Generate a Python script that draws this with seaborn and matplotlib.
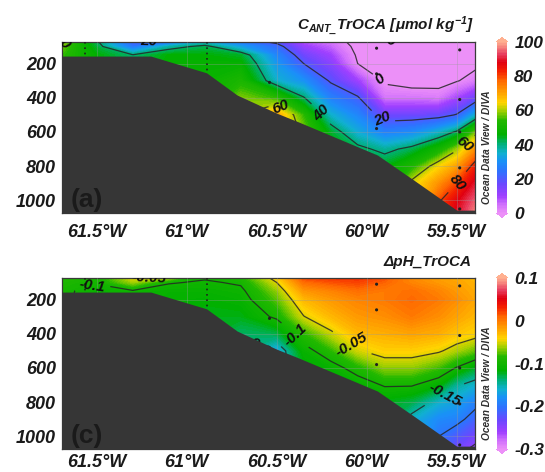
import numpy as np
import matplotlib
matplotlib.use("Agg")
import matplotlib.pyplot as plt
import seaborn as sns
from matplotlib.colors import LinearSegmentedColormap, Normalize
from matplotlib.ticker import FixedLocator, FixedFormatter

# ---------------- data ----------------
lon_grid = [-61.70, -61.50, -61.30, -61.10, -60.90, -60.70, -60.50, -60.35,
            -60.20, -60.05, -59.90, -59.75, -59.60, -59.50, -59.39]
depth_grid = [60, 100, 150, 200, 300, 400, 500, 600, 700, 800, 900, 1000, 1080]

# C_ANT TrOCA (umol/kg), rows = depth_grid, columns = lon_grid
cant_grid = [
    [62, 40, 18, 17, 30, 22, 16,  6,  3, -3,  1, -2, -3, -3, -3],
    [58, 43, 25, 37, 42, 32, 23, 11,  6, -2, -1, -3, -4, -3, -3],
    [55, 46, 40.5, 46, 46, 44, 28, 16, 10, -1, -3, -4, -4, -3, -2],
    [55, 46, 42, 47, 47, 47, 31, 20, 13,  0, -3, -4, -3, -2, -1.5],
    [55, 46, 42, 47, 48, 52, 35, 30, 19, 10, -1, -3, -2.5, -0.5, 3],
    [55, 46, 42, 47, 48, 58, 54, 40.5, 27, 21,  4,  4,  3,  9, 16],
    [55, 46, 42, 47, 48, 60, 70, 54, 35, 28, 16, 16, 17, 20.5, 35],
    [55, 46, 42, 47, 48, 60, 70, 58, 44, 34, 27, 29, 35, 41, 58],
    [55, 46, 42, 47, 48, 60, 70, 58, 46, 42, 38, 42, 50, 59, 73],
    [55, 46, 42, 47, 48, 60, 70, 58, 46, 42, 45, 52, 64, 70, 84],
    [55, 46, 42, 47, 48, 60, 70, 58, 46, 42, 45, 62, 72, 80, 90],
    [55, 46, 42, 47, 48, 60, 70, 58, 46, 42, 45, 62, 79, 87, 95],
    [55, 46, 42, 47, 48, 60, 70, 58, 46, 42, 45, 62, 80, 89, 98],
]

# delta pH TrOCA, rows = depth_grid, columns = lon_grid
dph_grid = [
    [-0.085, -0.090, -0.040, -0.043, -0.095, -0.085, -0.035, 0.025, 0.030, 0.030, 0.020, -0.010, -0.020, -0.025, -0.030],
    [-0.090, -0.098, -0.062, -0.098, -0.103, -0.097, -0.050, 0.005, 0.015, 0.020, 0.010, -0.005, -0.015, -0.020, -0.028],
    [-0.095, -0.108, -0.103, -0.110, -0.110, -0.105, -0.065, -0.015, -0.005, 0.005, 0.000, 0.005, -0.005, -0.015, -0.025],
    [-0.095, -0.110, -0.105, -0.112, -0.115, -0.110, -0.075, -0.030, -0.015, -0.005, 0.000, 0.008, 0.000, -0.010, -0.022],
    [-0.095, -0.110, -0.105, -0.112, -0.120, -0.120, -0.095, -0.051, -0.030, -0.015, -0.010, 0.000, -0.010, -0.020, -0.030],
    [-0.095, -0.110, -0.105, -0.112, -0.120, -0.135, -0.130, -0.085, -0.055, -0.030, -0.025, -0.020, -0.025, -0.035, -0.042],
    [-0.095, -0.110, -0.105, -0.112, -0.120, -0.140, -0.170, -0.110, -0.085, -0.052, -0.040, -0.040, -0.047, -0.060, -0.075],
    [-0.095, -0.110, -0.105, -0.112, -0.120, -0.140, -0.170, -0.120, -0.110, -0.090, -0.065, -0.065, -0.080, -0.102, -0.125],
    [-0.095, -0.110, -0.105, -0.112, -0.120, -0.140, -0.170, -0.120, -0.120, -0.112, -0.098, -0.098, -0.115, -0.147, -0.162],
    [-0.095, -0.110, -0.105, -0.112, -0.120, -0.140, -0.170, -0.120, -0.120, -0.112, -0.120, -0.130, -0.160, -0.170, -0.192],
    [-0.095, -0.110, -0.105, -0.112, -0.120, -0.140, -0.170, -0.120, -0.120, -0.112, -0.120, -0.160, -0.185, -0.190, -0.215],
    [-0.095, -0.110, -0.105, -0.112, -0.120, -0.140, -0.170, -0.120, -0.120, -0.112, -0.120, -0.160, -0.200, -0.220, -0.240],
    [-0.095, -0.110, -0.105, -0.112, -0.120, -0.140, -0.170, -0.120, -0.120, -0.112, -0.120, -0.160, -0.205, -0.240, -0.260],
]

# sea floor along the section
bathy_lon = [-61.70, -61.20, -60.89, -60.72, -60.50, -60.37, -59.94, -59.74, -59.50, -59.39]
bathy_depth = [156, 156, 254, 384, 490, 545, 735, 880, 1057, 1057]

# stations (casts and bottle samples)
cast_lon = [-61.565, -60.89]
cast_bottom = [156, 254]
sample_lon = [-60.54, -59.945, -59.945, -59.945, -59.483, -59.483, -59.483, -59.483, -59.483]
sample_depth = [310, 110, 260, 580, 120, 410, 600, 810, 1050]

lon_ticks = [-61.5, -61.0, -60.5, -60.0, -59.5]
lon_tick_labels = ["61.5°W", "61°W", "60.5°W", "60°W", "59.5°W"]
depth_ticks = [200, 400, 600, 800, 1000]
depth_tick_labels = ["200", "400", "600", "800", "1000"]

cant_levels = [0, 20, 40, 60, 80]
dph_levels = [-0.25, -0.2, -0.15, -0.1, -0.05]
cant_cbar_ticks = [0, 20, 40, 60, 80, 100]
cant_cbar_labels = ["0", "20", "40", "60", "80", "100"]
dph_cbar_ticks = [-0.3, -0.2, -0.1, 0.0, 0.1]
dph_cbar_labels = ["-0.3", "-0.2", "-0.1", "0", "0.1"]

title_a = r"$C_{ANT\_}TrOCA\ [μmol\ kg^{-1}]$"
title_c = "ΔpH_TrOCA"
odv_text = "Ocean Data View / DIVA"

# contour label positions (lon, depth)
cant_label_pos = [(-61.68, 80), (-61.21, 80), (-59.86, 88), (-59.944, 326), (-59.917, 530),
                  (-60.26, 501), (-60.486, 470), (-59.465, 664), (-59.51, 881)]
dph_label_pos = [(-61.53, 95), (-61.21, 75), (-60.41, 419), (-60.09, 470), (-59.574, 745),
                 (-60.60, 440)]

# ---------------- style ----------------
sns.set_theme(style="white")
plt.rcParams["font.family"] = ["Liberation Sans", "DejaVu Sans"]
plt.rcParams["mathtext.fontset"] = "custom"
plt.rcParams["mathtext.rm"] = "Liberation Sans:bold:italic"
plt.rcParams["mathtext.it"] = "Liberation Sans:bold:italic"
plt.rcParams["mathtext.bf"] = "Liberation Sans:bold:italic"
plt.rcParams["contour.negative_linestyle"] = "solid"

odv_nodes = [
    (0.00, "#ec90f8"), (0.05, "#d070fc"), (0.10, "#a040ff"), (0.17, "#6a48ff"),
    (0.24, "#3070ff"), (0.30, "#1a90f8"), (0.35, "#10b0d0"), (0.40, "#00b080"),
    (0.46, "#00b000"), (0.54, "#22b800"), (0.60, "#a8d000"), (0.645, "#ffd400"),
    (0.70, "#ffa400"), (0.77, "#ff6a00"), (0.83, "#f42000"), (0.88, "#e00010"),
    (0.93, "#e84060"), (1.00, "#ffb090"),
]
cmap = LinearSegmentedColormap.from_list("odv", odv_nodes, N=512)
cmap.set_under(odv_nodes[0][1])
cmap.set_over(odv_nodes[-1][1])

W, H = 545, 472
fig = plt.figure(figsize=(W / 100, H / 100), dpi=100)
fig.patch.set_facecolor("white")

XMIN, XMAX = -61.695, -59.398
YTOP, YBOT = 72, 1072


def px_axes(left, top, right, bottom):
    return [left / W, 1 - bottom / H, (right - left) / W, (bottom - top) / H]


def draw_panel(ax, cax, grid, vmin, vmax, levels, fmt, label_pos, letter,
               cticks, clabels, title, title_xy, odv_y, xpad):
    X, Y = np.meshgrid(lon_grid, depth_grid)
    Z = np.array(grid, dtype=float)
    norm = Normalize(vmin=vmin, vmax=vmax)
    fill_levels = np.linspace(vmin, vmax, 121)
    cf = ax.contourf(X, Y, Z, levels=fill_levels, cmap=cmap, norm=norm, extend="both", zorder=1)
    cs = ax.contour(X, Y, Z, levels=levels, colors="#262626", linewidths=0.9, alpha=0.85,
                    linestyles="solid", zorder=2)
    texts = ax.clabel(cs, levels, manual=label_pos, inline=True, fmt=fmt, fontsize=11)
    for t in texts:
        t.set_fontweight("bold")
        t.set_fontstyle("italic")
        t.set_color("#111111")
        t.set_zorder(4)

    # sea floor
    ax.fill_between(bathy_lon, bathy_depth, 1200, color="#363636", lw=0, zorder=5)

    # stations
    ax.vlines(cast_lon, YTOP, cast_bottom, colors="#202020", linestyles=(0, (1, 2.2)),
              linewidth=1.2, zorder=3)
    sns.scatterplot(x=sample_lon, y=sample_depth, ax=ax, color="#202020", s=5,
                    edgecolor="none", zorder=3, legend=False)

    ax.set_xlim(XMIN, XMAX)
    ax.set_ylim(YBOT, YTOP)
    ax.xaxis.set_major_locator(FixedLocator(lon_ticks))
    ax.xaxis.set_major_formatter(FixedFormatter(lon_tick_labels))
    ax.yaxis.set_major_locator(FixedLocator(depth_ticks))
    ax.yaxis.set_major_formatter(FixedFormatter(depth_tick_labels))
    ax.tick_params(axis="both", length=0)
    ax.tick_params(axis="x", pad=xpad)
    ax.tick_params(axis="y", pad=4)
    for lab in ax.get_xticklabels() + ax.get_yticklabels():
        lab.set_fontsize(13)
        lab.set_fontweight("bold")
        lab.set_fontstyle("italic")
        lab.set_color("#1a1a1a")
    ax.grid(True, color="#9a9a9a", lw=0.6, alpha=0.4, zorder=6)
    ax.set_axisbelow(False)
    for sp in ax.spines.values():
        sp.set_color("#3a3a3a")
        sp.set_linewidth(0.9)
        sp.set_visible(True)
    ax.set_xlabel("")
    ax.set_ylabel("")

    ax.text(0.022, 0.075, letter, transform=ax.transAxes, fontsize=19, fontweight="bold",
            color="#1a1a1a", ha="left", va="center", zorder=7)

    cb = fig.colorbar(cf, cax=cax, extend="both", extendfrac=0.025, ticks=cticks)
    cb.outline.set_visible(False)
    cb.ax.yaxis.set_major_formatter(FixedFormatter(clabels))
    cb.ax.tick_params(length=0, pad=5)
    for lab in cb.ax.get_yticklabels():
        lab.set_fontsize(12.5)
        lab.set_fontweight("bold")
        lab.set_fontstyle("italic")
        lab.set_color("#1a1a1a")

    fig.text(title_xy[0] / W, 1 - title_xy[1] / H, title, ha="right", va="center",
             fontsize=11, fontweight="bold", fontstyle="italic", color="#1a1a1a")
    fig.text(487 / W, 1 - odv_y / H, odv_text, rotation=90, ha="center", va="center",
             fontsize=7.3, fontweight="bold", fontstyle="italic", color="#2e2e2e")


ax_a = fig.add_axes(px_axes(61.7, 41.7, 475, 212.7))
cax_a = fig.add_axes(px_axes(496.7, 37.5, 507.3, 217.5))
ax_c = fig.add_axes(px_axes(61.7, 277.7, 475, 448.7))
cax_c = fig.add_axes(px_axes(496.7, 273.5, 507.3, 453.5))

draw_panel(ax_a, cax_a, cant_grid, 0, 100, cant_levels, lambda v: f"{v:.0f}",
           cant_label_pos, "(a)", cant_cbar_ticks, cant_cbar_labels, title_a, (474, 26), 147, 8)

dph_fmt = {-0.25: "-0.25", -0.2: "-0.2", -0.15: "-0.15", -0.1: "-0.1", -0.05: "-0.05"}
draw_panel(ax_c, cax_c, dph_grid, -0.3, 0.1, dph_levels, lambda v: dph_fmt.get(round(v, 2), f"{v:.2f}"),
           dph_label_pos, "(c)", dph_cbar_ticks, dph_cbar_labels, title_c, (471, 262), 383, 3.5)

fig.savefig("out.png", dpi=100, facecolor="white")
